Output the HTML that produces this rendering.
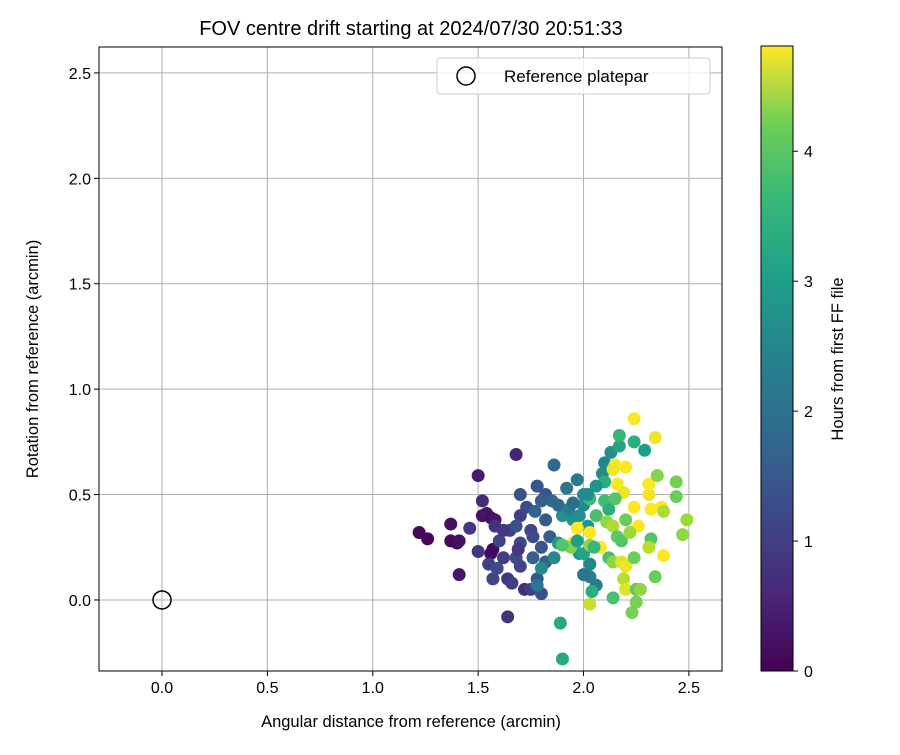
<!DOCTYPE html>
<html><head><meta charset="utf-8"><style>body{margin:0;background:#fff}svg{font-family:"Liberation Sans","DejaVu Sans",sans-serif}</style></head>
<body>
<svg id="c" width="900" height="750" xmlns="http://www.w3.org/2000/svg">
<defs><linearGradient id="vir" x1="0" y1="1" x2="0" y2="0">
<stop offset="0" stop-color="#440154"/><stop offset="0.125" stop-color="#482878"/><stop offset="0.25" stop-color="#3e4989"/><stop offset="0.375" stop-color="#31688e"/><stop offset="0.5" stop-color="#26828e"/><stop offset="0.625" stop-color="#1f9e89"/><stop offset="0.75" stop-color="#35b779"/><stop offset="0.875" stop-color="#6ece58"/><stop offset="1" stop-color="#fde725"/></linearGradient></defs>
<text x="411" y="35" text-anchor="middle" font-size="20">FOV centre drift starting at 2024/07/30 20:51:33</text>
<g id="grid"></g><g id="pts"></g>
<rect x="99" y="47" width="623" height="624" fill="none" stroke="#000" stroke-width="1"/>
<g id="ticks" font-size="16"></g>
<text x="411" y="727" text-anchor="middle" font-size="16.5">Angular distance from reference (arcmin)</text>
<text transform="translate(38,359) rotate(-90)" text-anchor="middle" font-size="16.5">Rotation from reference (arcmin)</text>
<g>
<rect x="437" y="58" width="273" height="36" rx="3" fill="#fff" fill-opacity="0.8" stroke="#ccc"/>
<circle cx="466" cy="76" r="9" fill="none" stroke="#000" stroke-width="1.5"/>
<text x="504" y="82" font-size="17">Reference platepar</text></g>
<rect x="761" y="46" width="32" height="625" fill="url(#vir)" stroke="#000"/>
<g id="cbt" font-size="16"></g>
<text transform="translate(843,359) rotate(-90)" text-anchor="middle" font-size="16.5">Hours from first FF file</text>
</svg>
<script>
const xTicks=[0,0.5,1,1.5,2,2.5];
const xTickLabels=["0.0","0.5","1.0","1.5","2.0","2.5"];
const yTicks=[0,0.5,1,1.5,2,2.5];
const yTickLabels=["0.0","0.5","1.0","1.5","2.0","2.5"];
const cbTicks=[0,1,2,3,4];
const xs=[1.22,1.26,1.37,1.37,1.40,1.41,1.41,1.50,1.52,1.54,1.56,1.58,1.57,1.56,1.52,1.68,1.64,1.46,1.50,1.55,1.58,1.60,1.62,1.64,1.66,1.57,1.65,1.70,1.70,1.73,1.75,1.76,1.70,1.68,1.70,1.72,1.75,1.78,1.80,1.78,1.82,1.86,1.85,1.80,1.77,1.82,1.84,1.80,1.82,1.78,1.80,1.86,1.88,1.90,1.92,1.95,1.89,1.90,1.97,2.00,1.98,2.00,2.02,1.98,2.03,2.03,2.06,2.09,2.10,2.13,2.17,2.17,2.24,2.29,2.24,2.34,2.15,2.20,2.14,2.10,2.16,2.19,2.06,2.03,2.10,2.12,2.06,2.11,2.14,2.16,2.18,2.08,2.12,2.14,2.18,2.20,2.19,2.20,2.14,2.03,2.04,2.23,2.25,2.25,2.24,2.26,2.24,2.32,2.31,2.31,2.37,2.38,2.35,2.44,2.44,2.47,2.49,2.38,2.32,2.31,2.34,2.27,1.95,1.97,2.03,1.94,1.90,1.97,2.00,2.03,2.02,2.05,2.15,2.20,2.22,1.88,1.76,1.68,1.62,1.59,1.69,2.00,1.93,1.95];
const ys=[0.32,0.29,0.36,0.28,0.27,0.28,0.12,0.59,0.40,0.41,0.39,0.38,0.24,0.22,0.47,0.69,-0.08,0.34,0.23,0.17,0.35,0.28,0.20,0.10,0.08,0.10,0.33,0.40,0.50,0.44,0.33,0.30,0.27,0.20,0.16,0.05,0.05,0.10,0.03,0.54,0.50,0.64,0.47,0.47,0.42,0.38,0.30,0.25,0.18,0.07,0.15,0.20,0.27,0.40,0.53,0.38,-0.11,-0.28,0.57,0.50,0.40,0.45,0.35,0.22,0.17,0.11,0.07,0.60,0.65,0.70,0.73,0.78,0.75,0.71,0.86,0.77,0.64,0.63,0.62,0.56,0.55,0.51,0.54,0.48,0.47,0.43,0.40,0.37,0.35,0.30,0.28,0.25,0.20,0.18,0.18,0.16,0.10,0.05,0.01,-0.02,0.04,-0.06,-0.01,0.05,0.20,0.35,0.44,0.43,0.50,0.55,0.44,0.42,0.59,0.56,0.49,0.31,0.38,0.21,0.29,0.25,0.11,0.05,0.27,0.34,0.32,0.25,0.26,0.28,0.22,0.26,0.50,0.25,0.48,0.38,0.32,0.45,0.20,0.35,0.33,0.15,0.24,0.12,0.43,0.46];
const hours=[0.1,0.1,0.2,0.1,0.1,0.2,0.3,0.4,0.2,0.3,0.2,0.3,0.1,0.1,0.6,0.5,0.7,0.8,0.8,0.9,0.7,1.0,0.9,0.8,0.9,1.0,0.9,0.9,1.2,1.1,1.0,1.1,1.0,1.1,1.0,0.6,0.9,1.3,1.2,1.3,1.3,1.6,1.6,1.5,1.5,1.4,1.4,1.3,1.5,1.9,2.3,2.3,2.6,2.4,1.9,2.4,2.9,2.9,2.0,2.3,2.4,2.3,2.5,2.5,2.2,2.1,2.0,2.3,2.2,2.4,2.8,3.2,3.0,2.7,4.8,4.7,4.8,4.8,4.7,3.0,4.8,4.7,2.5,3.3,3.3,3.0,3.4,4.0,4.2,3.6,3.5,4.8,3.4,4.0,4.6,4.7,4.3,4.6,3.4,4.4,3.0,3.8,3.8,3.6,3.7,4.8,4.8,4.8,4.7,4.8,4.8,4.2,3.9,3.8,3.7,4.0,4.1,4.8,3.5,4.3,3.7,4.0,4.8,4.8,4.8,3.9,3.5,2.7,2.8,4.0,2.3,3.2,3.5,3.7,4.1,1.6,1.5,1.2,0.8,1.1,0.8,1.9,2.0,1.7];
const NS="http://www.w3.org/2000/svg";
const X0=99,X1=722,Y0=671,Y1=47,xmin=-0.299,xmax=2.657,ymin=-0.337,ymax=2.623,hmax=4.81;
const sx=v=>X0+(v-xmin)/(xmax-xmin)*(X1-X0);
const sy=v=>Y0-(v-ymin)/(ymax-ymin)*(Y0-Y1);
const sc=h=>671-h/hmax*625;
const vir=[[68,1,84],[72,40,120],[62,73,137],[49,104,142],[38,130,142],[31,158,137],[53,183,121],[110,206,88],[181,222,43],[253,231,37]];
function col(h){let t=Math.max(0,Math.min(1,h/hmax))*(vir.length-1);let i=Math.min(vir.length-2,Math.floor(t)),f=t-i;const c=vir[i].map((a,k)=>Math.round(a+(vir[i+1][k]-a)*f));return `rgb(${c.join(',')})`;}
function mk(tag,at,par){const e=document.createElementNS(NS,tag);for(const k in at)e.setAttribute(k,at[k]);document.getElementById(par).appendChild(e);return e;}
xTicks.forEach((v,i)=>{const l=mk('line',{x1:sx(v),x2:sx(v),y1:Y1,y2:Y0,stroke:'#b0b0b0','stroke-width':1},'grid');


mk('line',{x1:sx(v),x2:sx(v),y1:Y0,y2:Y0+5,stroke:'#000'},'ticks');
const tx=mk('text',{x:sx(v),y:Y0+22,'text-anchor':'middle'},'ticks');tx.textContent=xTickLabels[i];

});
yTicks.forEach((v,i)=>{const l=mk('line',{x1:X0,x2:X1,y1:sy(v),y2:sy(v),stroke:'#b0b0b0','stroke-width':1},'grid');


mk('line',{x1:X0-5,x2:X0,y1:sy(v),y2:sy(v),stroke:'#000'},'ticks');
const tx=mk('text',{x:X0-8,y:sy(v)+6,'text-anchor':'end'},'ticks');tx.textContent=yTickLabels[i];

});
cbTicks.forEach(v=>{mk('line',{x1:793,x2:798,y1:sc(v),y2:sc(v),stroke:'#000'},'cbt');
const tx=mk('text',{x:804,y:sc(v)+6},'cbt');tx.textContent=v;

});
const ref=mk('circle',{cx:sx(0),cy:sy(0),r:9,fill:'none',stroke:'#000','stroke-width':1.5},'pts');


xs.forEach((v,i)=>{const c=mk('circle',{cx:sx(v),cy:sy(ys[i]),r:6.5,fill:col(hours[i])},'pts');

});
</script>
</body></html>
